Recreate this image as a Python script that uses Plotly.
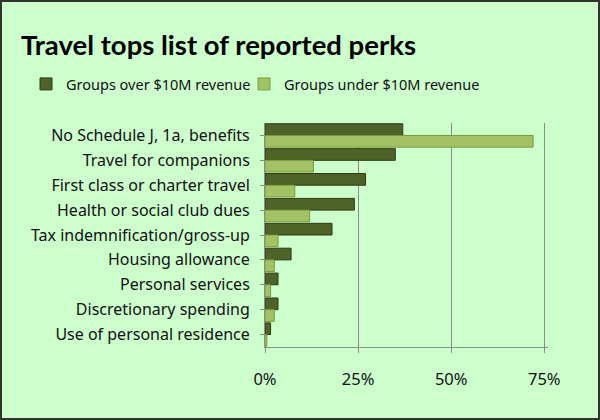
import plotly.graph_objects as go

# Categories, top to bottom
perks = [
    "No Schedule J, 1a, benefits",
    "Travel for companions",
    "First class or charter travel",
    "Health or social club dues",
    "Tax indemnification/gross-up",
    "Housing allowance",
    "Personal services",
    "Discretionary spending",
    "Use of personal residence",
]
# Share of groups reporting each perk (%)
over_10m = [37, 35, 27, 24, 18, 7, 3.5, 3.5, 1.5]
under_10m = [72, 13, 8, 12, 3.5, 2.5, 1.5, 2.5, 0.5]
x_ticks = [0, 25, 50, 75]
x_tick_text = ["0%", "25%", "50%", "75%"]

W, H = 600, 420
L, R, T, B = 265, 52, 123, 73
pw, ph = W - L - R, H - T - B

def px_x(p):
    return (p - L) / pw

def px_y(p):
    return 1 - (p - T) / ph

fig = go.Figure()
fig.add_trace(go.Bar(
    y=perks, x=over_10m, orientation="h", name="Groups over $10M revenue",
    marker=dict(color="#4f6228", line=dict(color="#2f3c16", width=1)),
    legend="legend",
))
fig.add_trace(go.Bar(
    y=perks, x=under_10m, orientation="h", name="Groups under $10M revenue",
    marker=dict(color="#a3c264", line=dict(color="#7a9a40", width=1)),
    legend="legend2",
))

leg = dict(
    orientation="h", xanchor="left",
    xref="container", yref="container", y=1 - 84 / H, yanchor="middle",
    font=dict(size=14.5), bgcolor="rgba(0,0,0,0)", itemwidth=30,
)

fig.update_layout(
    width=W, height=H,
    margin=dict(l=L, r=R, t=T, b=B),
    paper_bgcolor="#ccffcc",
    plot_bgcolor="#ccffcc",
    barmode="group",
    bargap=0.06,
    bargroupgap=0,
    font=dict(family="Noto Sans, sans-serif", size=16, color="#111111"),
    title=dict(
        text="<b>Travel tops list of reported perks</b>",
        font=dict(family="Lato, sans-serif", size=27.5, color="#000000"),
        xref="container", x=21 / W, xanchor="left",
        yref="container", y=1 - 45 / H, yanchor="middle",
    ),
    legend=dict(leg, x=26 / W),
    legend2=dict(leg, x=244 / W),
    showlegend=True,
    xaxis=dict(
        range=[0, 76], tickvals=x_ticks, ticktext=x_tick_text,
        tickfont=dict(size=16.5),
        showgrid=True, gridcolor="#8c8c8c", gridwidth=1,
        showline=True, linecolor="#8c8c8c", linewidth=1,
        ticks="outside", ticklen=5, tickcolor="#8c8c8c",
        ticklabelstandoff=12, zeroline=False,
    ),
    yaxis=dict(
        autorange="reversed",
        showline=True, linecolor="#8c8c8c", linewidth=1,
        ticks="outside", ticklen=4, tickcolor="#8c8c8c",
        ticklabelstandoff=7,
    ),
    shapes=[dict(
        type="rect", xref="paper", yref="paper",
        x0=px_x(1), x1=px_x(W - 1), y0=px_y(H - 1), y1=px_y(1),
        line=dict(color="#333333", width=2), layer="above",
    )],
)

fig.write_html("out.html", config={"displayModeBar": False},
               post_script="document.body.style.margin='0';")
